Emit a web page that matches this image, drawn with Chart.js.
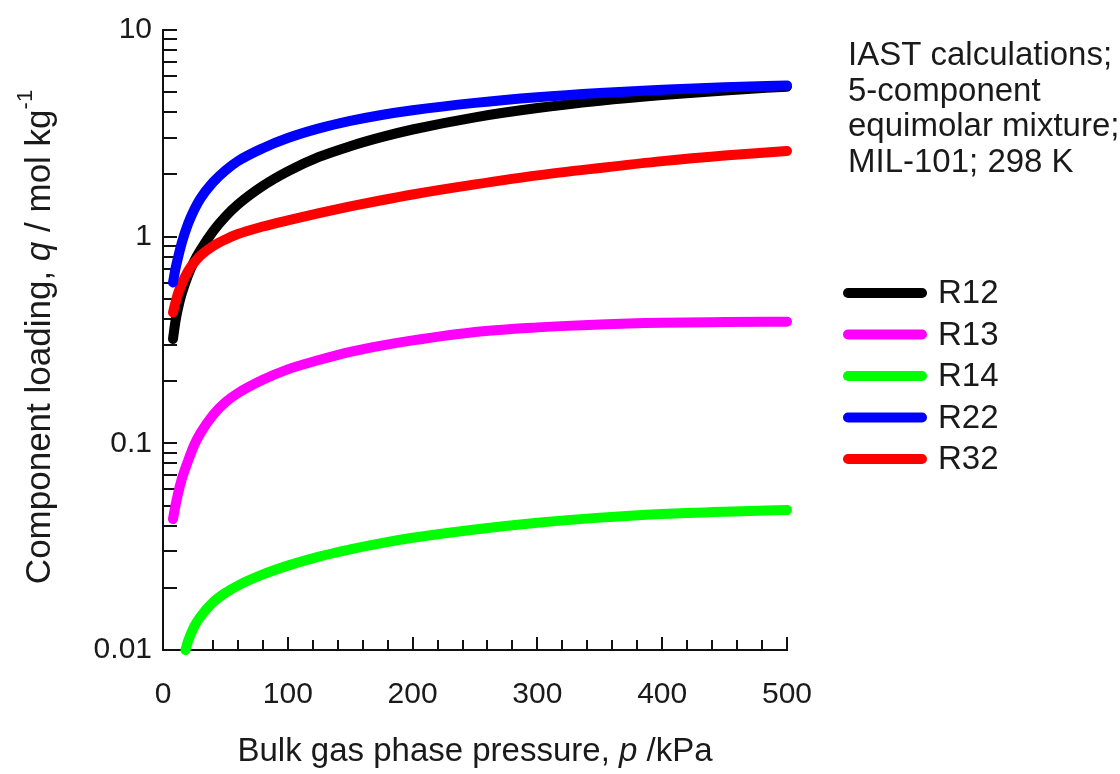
<!DOCTYPE html>
<html>
<head>
<meta charset="utf-8">
<script src="https://cdn.jsdelivr.net/npm/chart.js@4/dist/chart.umd.min.js"></script>
<style>
  html, body { margin: 0; padding: 0; background: #ffffff; }
  #wrap { width: 1120px; height: 774px; position: relative; }
</style>
</head>
<body>
<div id="wrap"><canvas id="c" width="1120" height="774"></canvas></div>
<script>
// Bulk gas phase pressure, kPa
const pressure = [8, 10, 12, 15, 20, 25, 30, 40, 50, 60, 80, 100, 125, 150, 175, 200, 250, 300, 350, 400, 450, 500];
// Component loadings, mol/kg
const loadR12 = [0.32, 0.39, 0.45, 0.53, 0.65, 0.76, 0.86, 1.06, 1.25, 1.43, 1.76, 2.07, 2.43, 2.74, 3.03, 3.30, 3.78, 4.19, 4.54, 4.84, 5.10, 5.32];
const loadR13 = [0.043, 0.050, 0.057, 0.067, 0.082, 0.098, 0.112, 0.137, 0.158, 0.175, 0.203, 0.228, 0.253, 0.277, 0.297, 0.315, 0.346, 0.364, 0.376, 0.383, 0.386, 0.388];
const loadR22 = [0.60, 0.70, 0.79, 0.93, 1.15, 1.35, 1.53, 1.83, 2.09, 2.32, 2.68, 3.00, 3.34, 3.63, 3.88, 4.09, 4.44, 4.73, 4.96, 5.14, 5.28, 5.39];
const loadR32 = [0.43, 0.48, 0.53, 0.59, 0.68, 0.75, 0.81, 0.90, 0.97, 1.03, 1.12, 1.20, 1.30, 1.40, 1.50, 1.60, 1.79, 1.98, 2.15, 2.32, 2.47, 2.60];
// R14 loading only rises above 0.01 mol/kg from about 18 kPa
const pressureR14 = [18, 20, 25, 30, 40, 50, 60, 80, 100, 125, 150, 175, 200, 250, 300, 350, 400, 450, 500];
const loadR14 = [0.0100, 0.0110, 0.0130, 0.0145, 0.0170, 0.0189, 0.0205, 0.0232, 0.0256, 0.0283, 0.0307, 0.0329, 0.0349, 0.0383, 0.0413, 0.0437, 0.0455, 0.0467, 0.0476];

const seriesNames = ['R12', 'R13', 'R14', 'R22', 'R32'];
const seriesColors = ['#000000', '#ff00ff', '#00ff00', '#0000ff', '#ff0000'];
const yTickValues = [0.01, 0.1, 1, 10];
const yTickLabels = ['0.01', '0.1', '1', '10'];
const xTickValues = [0, 100, 200, 300, 400, 500];
const noteLines = ['IAST calculations;', '5-component', 'equimolar mixture;', 'MIL-101; 298 K'];

const FONT = '"Liberation Sans", Arial, Helvetica, sans-serif';
const TEXT = '#1a1a1a';

function pairs(xs, ys) { return xs.map((x, i) => ({ x: x, y: ys[i] })); }

const seriesData = [
  pairs(pressure, loadR12),
  pairs(pressure, loadR13),
  pairs(pressureR14, loadR14),
  pairs(pressure, loadR22),
  pairs(pressure, loadR32)
];

const datasets = seriesNames.map((name, i) => ({
  label: name,
  data: seriesData[i],
  borderColor: seriesColors[i],
  backgroundColor: seriesColors[i],
  borderWidth: 10,
  borderCapStyle: 'round',
  borderJoinStyle: 'round',
  pointRadius: 0,
  fill: false,
  cubicInterpolationMode: 'monotone',
  clip: false,
  order: name === 'R12' ? 1 : 0   // R12 sits underneath the other curves
}));

// Inward tick marks on both axes, plus minor ticks
const axisTicks = {
  id: 'axisTicks',
  beforeDatasetsDraw(chart) {
    const ctx = chart.ctx, xs = chart.scales.x, ys = chart.scales.y, a = chart.chartArea;
    ctx.save();
    ctx.strokeStyle = '#111';
    ctx.lineWidth = 2;
    ctx.beginPath();
    for (let d = -2; d <= 0; d++) {
      for (let k = 1; k <= 9; k++) {
        const y = Math.round(ys.getPixelForValue(k * Math.pow(10, d)));
        ctx.moveTo(a.left, y); ctx.lineTo(a.left + 14, y);
      }
    }
    const yTop = Math.round(ys.getPixelForValue(10));
    ctx.moveTo(a.left, yTop); ctx.lineTo(a.left + 14, yTop);
    for (let p = 0; p <= 500; p += 20) {
      const x = Math.round(xs.getPixelForValue(p));
      const len = p % 100 === 0 ? 13 : 10;
      ctx.moveTo(x, a.bottom); ctx.lineTo(x, a.bottom - len);
    }
    ctx.stroke();
    ctx.restore();
  }
};

// Axis titles, legend and note text
const annotations = {
  id: 'annotations',
  afterDraw(chart) {
    const ctx = chart.ctx;
    ctx.save();
    ctx.fillStyle = TEXT;

    // note block
    ctx.font = '33px ' + FONT;
    ctx.textAlign = 'left';
    ctx.textBaseline = 'middle';
    noteLines.forEach((t, i) => ctx.fillText(t, 848, 56 + i * 35.7));

    // legend
    chart.data.datasets.forEach((ds, i) => {
      const y = 293 + i * 41.5;
      ctx.strokeStyle = ds.borderColor;
      ctx.lineWidth = 10;
      ctx.lineCap = 'round';
      ctx.beginPath();
      ctx.moveTo(848, y); ctx.lineTo(922, y);
      ctx.stroke();
      ctx.fillStyle = TEXT;
      ctx.font = '33px ' + FONT;
      ctx.fillText(ds.label, 938, y + 1);
    });

    // x title with italic p
    drawRich(ctx, [
      { t: 'Bulk gas phase pressure, ', f: '33px ' + FONT },
      { t: 'p', f: 'italic 33px ' + FONT },
      { t: ' /kPa', f: '33px ' + FONT }
    ], 475, 752);

    // y title with italic q and superscript -1
    ctx.save();
    ctx.translate(40, 337);
    ctx.rotate(-Math.PI / 2);
    drawRich(ctx, [
      { t: 'Component loading, ', f: '35px ' + FONT },
      { t: 'q', f: 'italic 35px ' + FONT },
      { t: ' / mol kg', f: '35px ' + FONT },
      { t: '-1', f: '22px ' + FONT, dy: -14 }
    ], 0, 0);
    ctx.restore();

    ctx.restore();
  }
};

function drawRich(ctx, parts, cx, cy) {
  let total = 0;
  parts.forEach(p => { ctx.font = p.f; p.w = ctx.measureText(p.t).width; total += p.w; });
  let x = cx - total / 2;
  ctx.textAlign = 'left';
  ctx.textBaseline = 'middle';
  parts.forEach(p => {
    ctx.font = p.f;
    ctx.fillText(p.t, x, cy + (p.dy || 0));
    x += p.w;
  });
}

new Chart(document.getElementById('c'), {
  type: 'line',
  data: { datasets: datasets },
  options: {
    responsive: false,
    animation: false,
    devicePixelRatio: 1,
    layout: { padding: { left: 0, top: 30, right: 333, bottom: 0 } },
    plugins: { legend: { display: false }, tooltip: { enabled: false } },
    scales: {
      x: {
        type: 'linear',
        min: 0, max: 500,
        afterBuildTicks: s => { s.ticks = xTickValues.map(v => ({ value: v })); },
        afterFit: s => { s.height = 124; },
        grid: { display: false, drawTicks: false },
        border: { display: true, color: '#111', width: 2 },
        ticks: { font: { size: 30, family: FONT }, color: TEXT, padding: 27, maxRotation: 0,
                 callback: v => String(v) }
      },
      y: {
        type: 'logarithmic',
        min: 0.01, max: 10,
        afterBuildTicks: s => { s.ticks = yTickValues.map(v => ({ value: v })); },
        afterFit: s => { s.width = 163; },
        grid: { display: false, drawTicks: false },
        border: { display: true, color: '#111', width: 2 },
        ticks: { font: { size: 30, family: FONT }, color: TEXT, padding: 11,
                 callback: v => yTickLabels[yTickValues.indexOf(v)] ?? '' }
      }
    }
  },
  plugins: [axisTicks, annotations]
});
</script>
</body>
</html>
